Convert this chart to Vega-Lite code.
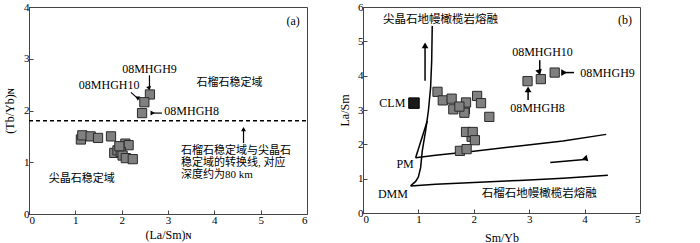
{
  "$schema": "https://vega.github.io/schema/vega-lite/v6.json",
  "padding": {"left": 3, "top": 0, "right": 0, "bottom": 0},
  "background": "white",
  "spacing": 56,
  "bounds": "flush",
  "config": {
    "view": {"stroke": "#444444", "strokeWidth": 1},
    "font": "Liberation Serif",
    "axis": {
      "grid": false, "domainColor": "#444444", "tickColor": "#444444", "tickSize": -4,
      "labelFont": "Liberation Serif", "labelFontSize": 11, "labelColor": "black", "labelPadding": 4,
      "titleFont": "Liberation Serif", "titleFontSize": 12, "titleFontWeight": "normal", "titleColor": "black"
    },
    "text": {"font": "Liberation Serif, Noto Sans CJK SC", "fontSize": 12, "color": "black"}
  },
  "datasets": {
    "a_pts": [
      {"x": 1.12, "y": 1.44}, {"x": 1.15, "y": 1.52}, {"x": 1.33, "y": 1.50}, {"x": 1.49, "y": 1.47},
      {"x": 1.77, "y": 1.50}, {"x": 2.08, "y": 1.36}, {"x": 2.15, "y": 1.33}, {"x": 1.84, "y": 1.18},
      {"x": 1.91, "y": 1.23}, {"x": 1.98, "y": 1.20}, {"x": 2.02, "y": 1.13}, {"x": 2.09, "y": 1.08},
      {"x": 2.24, "y": 1.06}, {"x": 1.95, "y": 1.31},
      {"x": 2.61, "y": 2.31}, {"x": 2.49, "y": 2.16}, {"x": 2.44, "y": 1.95}
    ],
    "a_dash": [{"x": 0, "y": 1.8}, {"x": 6, "y": 1.8}],
    "a_shafts": [
      {"x": 2.60, "y": 2.68, "x2": 2.60, "y2": 2.45},
      {"x": 2.20, "y": 2.35, "x2": 2.34, "y2": 2.24},
      {"x": 2.87, "y": 1.95, "x2": 2.67, "y2": 1.95},
      {"x": 4.63, "y": 1.37, "x2": 4.63, "y2": 1.64}
    ],
    "a_heads": [
      {"x": 2.60, "y": 2.45, "dir": "down"},
      {"x": 2.35, "y": 2.23, "dir": "downright"},
      {"x": 2.67, "y": 1.95, "dir": "left"},
      {"x": 4.63, "y": 1.64, "dir": "up"}
    ],
    "a_text_c": [
      {"x": 2.60, "y": 2.80, "label": "08MHGH9"},
      {"x": 1.73, "y": 2.50, "label": "08MHGH10"},
      {"x": 5.70, "y": 3.72, "label": "(a)"}
    ],
    "a_cn_c": [
      {"x": 4.33, "y": 2.53, "label": "石榴石稳定域"},
      {"x": 1.14, "y": 0.68, "label": "尖晶石稳定域"}
    ],
    "a_text_l": [
      {"x": 2.92, "y": 1.99, "label": "08MHGH8"}
    ],
    "a_cn_l": [
      {"x": 3.28, "y": 1.21, "label": "石榴石稳定域与尖晶石"},
      {"x": 3.28, "y": 0.985, "label": "稳定域的转换线, 对应"},
      {"x": 3.28, "y": 0.76, "label": "深度约为80 km"}
    ],
    "b_pts": [
      {"x": 1.345, "y": 3.53}, {"x": 1.44, "y": 3.28}, {"x": 1.60, "y": 3.33}, {"x": 1.63, "y": 3.02},
      {"x": 1.84, "y": 3.02}, {"x": 1.83, "y": 2.92}, {"x": 1.86, "y": 3.22}, {"x": 1.74, "y": 3.10},
      {"x": 2.06, "y": 3.41}, {"x": 2.13, "y": 3.20}, {"x": 2.28, "y": 2.80},
      {"x": 1.96, "y": 2.22}, {"x": 1.86, "y": 2.36}, {"x": 1.98, "y": 2.36}, {"x": 2.02, "y": 2.12},
      {"x": 1.75, "y": 1.81}, {"x": 1.87, "y": 1.86},
      {"x": 2.97, "y": 3.84}, {"x": 3.21, "y": 3.90}, {"x": 3.46, "y": 4.09}
    ],
    "b_clm": [{"x": 0.92, "y": 3.20}],
    "b_curves": [
      {"curve": "spinel", "i": 1, "x": 0.86, "y": 0.79},
      {"curve": "spinel", "i": 2, "x": 0.95, "y": 0.92},
      {"curve": "spinel", "i": 3, "x": 1.00, "y": 1.05},
      {"curve": "spinel", "i": 4, "x": 1.04, "y": 1.32},
      {"curve": "spinel", "i": 5, "x": 1.07, "y": 1.81},
      {"curve": "spinel", "i": 6, "x": 1.13, "y": 2.39},
      {"curve": "spinel", "i": 7, "x": 1.18, "y": 2.97},
      {"curve": "spinel", "i": 8, "x": 1.22, "y": 3.65},
      {"curve": "spinel", "i": 9, "x": 1.24, "y": 4.43},
      {"curve": "spinel", "i": 10, "x": 1.25, "y": 5.45},
      {"curve": "pmbranch", "i": 1, "x": 0.95, "y": 1.61},
      {"curve": "pmbranch", "i": 2, "x": 1.16, "y": 2.68},
      {"curve": "pm", "i": 1, "x": 0.95, "y": 1.61},
      {"curve": "pm", "i": 2, "x": 1.31, "y": 1.68},
      {"curve": "pm", "i": 3, "x": 2.00, "y": 1.80},
      {"curve": "pm", "i": 4, "x": 2.82, "y": 1.95},
      {"curve": "pm", "i": 5, "x": 3.61, "y": 2.10},
      {"curve": "pm", "i": 6, "x": 4.39, "y": 2.29},
      {"curve": "dmm", "i": 1, "x": 0.86, "y": 0.79},
      {"curve": "dmm", "i": 2, "x": 1.31, "y": 0.84},
      {"curve": "dmm", "i": 3, "x": 2.00, "y": 0.89},
      {"curve": "dmm", "i": 4, "x": 2.82, "y": 0.95},
      {"curve": "dmm", "i": 5, "x": 3.61, "y": 1.01},
      {"curve": "dmm", "i": 6, "x": 4.42, "y": 1.10}
    ],
    "b_shafts": [
      {"x": 1.12, "y": 3.85, "x2": 1.12, "y2": 4.85},
      {"x": 3.38, "y": 1.47, "x2": 4.00, "y2": 1.56},
      {"x": 3.19, "y": 4.45, "x2": 3.19, "y2": 4.14},
      {"x": 3.81, "y": 4.09, "x2": 3.64, "y2": 4.09},
      {"x": 2.98, "y": 3.29, "x2": 2.98, "y2": 3.58}
    ],
    "b_heads": [
      {"x": 1.12, "y": 4.88, "dir": "up"},
      {"x": 4.03, "y": 1.565, "dir": "right"},
      {"x": 3.19, "y": 4.14, "dir": "down"},
      {"x": 3.63, "y": 4.09, "dir": "left"},
      {"x": 2.98, "y": 3.60, "dir": "up"}
    ],
    "b_text_c": [
      {"x": 4.73, "y": 5.62, "label": "(b)"},
      {"x": 3.24, "y": 4.70, "label": "08MHGH10"},
      {"x": 3.15, "y": 3.05, "label": "08MHGH8"},
      {"x": 0.53, "y": 3.20, "label": "CLM"},
      {"x": 0.76, "y": 1.42, "label": "PM"},
      {"x": 0.54, "y": 0.56, "label": "DMM"}
    ],
    "b_cn_c": [
      {"x": 1.40, "y": 5.62, "label": "尖晶石地幔橄榄岩熔融"},
      {"x": 3.18, "y": 0.56, "label": "石榴石地幔橄榄岩熔融"}
    ],
    "b_text_l": [
      {"x": 3.92, "y": 4.09, "label": "08MHGH9"}
    ]
  },
  "hconcat": [
    {
      "width": 278,
      "height": 207,
      "encoding": {
        "x": {"field": "x", "type": "quantitative", "scale": {"domain": [0, 6], "nice": false},
              "axis": {"title": "(La/Sm)ɴ", "values": [0, 1, 2, 3, 4, 5, 6], "titlePadding": 4}},
        "y": {"field": "y", "type": "quantitative", "scale": {"domain": [0, 4], "nice": false},
              "axis": {"title": "(Tb/Yb)ɴ", "values": [0, 1, 2, 3, 4], "titlePadding": 7}}
      },
      "layer": [
        {"data": {"name": "a_dash"}, "mark": {"type": "line", "color": "black", "strokeWidth": 1.5, "strokeDash": [4, 3]}},
        {"data": {"name": "a_shafts"}, "mark": {"type": "rule", "color": "black", "strokeWidth": 1.2},
         "encoding": {"x2": {"field": "x2"}, "y2": {"field": "y2"}}},
        {"data": {"name": "a_heads"}, "mark": {"type": "point", "shape": "triangle-up", "filled": true, "color": "black", "size": 25, "opacity": 1},
         "encoding": {"angle": {"field": "dir", "type": "nominal", "scale": {"domain": ["up", "down", "left", "right", "downright"], "range": [0, 180, 270, 90, 130]}, "legend": null}}},
        {"data": {"name": "a_pts"}, "mark": {"type": "point", "shape": "square", "filled": true, "fill": "#808080", "stroke": "#2a2a2a", "strokeWidth": 1, "size": 85, "opacity": 1}},
        {"data": {"name": "a_text_c"}, "mark": {"type": "text", "align": "center", "baseline": "middle"},
         "encoding": {"text": {"field": "label"}}},
        {"data": {"name": "a_cn_c"}, "mark": {"type": "text", "align": "center", "baseline": "middle", "fontSize": 11},
         "encoding": {"text": {"field": "label"}}},
        {"data": {"name": "a_text_l"}, "mark": {"type": "text", "align": "left", "baseline": "middle"},
         "encoding": {"text": {"field": "label"}}},
        {"data": {"name": "a_cn_l"}, "mark": {"type": "text", "align": "left", "baseline": "middle", "fontSize": 11},
         "encoding": {"text": {"field": "label"}}}
      ]
    },
    {
      "width": 277,
      "height": 206,
      "encoding": {
        "x": {"field": "x", "type": "quantitative", "scale": {"domain": [0, 5], "nice": false},
              "axis": {"title": "Sm/Yb", "values": [0, 1, 2, 3, 4, 5], "titlePadding": 8}},
        "y": {"field": "y", "type": "quantitative", "scale": {"domain": [0, 6], "nice": false},
              "axis": {"title": "La/Sm", "values": [0, 1, 2, 3, 4, 5, 6], "titlePadding": 6}}
      },
      "layer": [
        {"data": {"name": "b_curves"}, "mark": {"type": "line", "color": "black", "strokeWidth": 1.5},
         "encoding": {"detail": {"field": "curve"}, "order": {"field": "i", "type": "quantitative"}}},
        {"data": {"name": "b_shafts"}, "mark": {"type": "rule", "color": "black", "strokeWidth": 1.5},
         "encoding": {"x2": {"field": "x2"}, "y2": {"field": "y2"}}},
        {"data": {"name": "b_heads"}, "mark": {"type": "point", "shape": "triangle-up", "filled": true, "color": "black", "size": 45, "opacity": 1},
         "encoding": {"angle": {"field": "dir", "type": "nominal", "scale": {"domain": ["up", "down", "left", "right", "downright"], "range": [0, 180, 270, 83, 130]}, "legend": null}}},
        {"data": {"name": "b_pts"}, "mark": {"type": "point", "shape": "square", "filled": true, "fill": "#808080", "stroke": "#2a2a2a", "strokeWidth": 1, "size": 85, "opacity": 1}},
        {"data": {"name": "b_clm"}, "mark": {"type": "point", "shape": "square", "filled": true, "fill": "#1a1a1a", "stroke": "#000000", "strokeWidth": 1, "size": 110, "opacity": 1}},
        {"data": {"name": "b_text_c"}, "mark": {"type": "text", "align": "center", "baseline": "middle"},
         "encoding": {"text": {"field": "label"}}},
        {"data": {"name": "b_cn_c"}, "mark": {"type": "text", "align": "center", "baseline": "middle", "fontSize": 11.5},
         "encoding": {"text": {"field": "label"}}},
        {"data": {"name": "b_text_l"}, "mark": {"type": "text", "align": "left", "baseline": "middle"},
         "encoding": {"text": {"field": "label"}}}
      ]
    }
  ]
}
